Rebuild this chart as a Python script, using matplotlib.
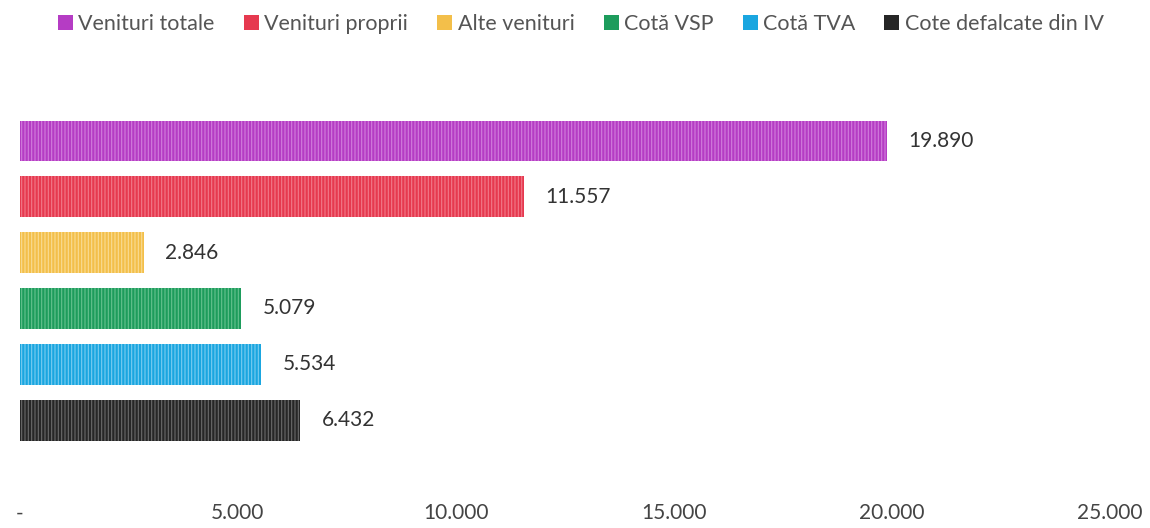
import matplotlib
matplotlib.use("Agg")
import matplotlib.pyplot as plt
from matplotlib.patches import Patch

categories = ["Venituri totale", "Venituri proprii", "Alte venituri",
              "Cotă VSP", "Cotă TVA", "Cote defalcate din IV"]
values = [19890, 11557, 2846, 5079, 5534, 6432]
colors = ["#b53cc4", "#e6394f", "#f3bf4a", "#1d9c5c", "#1aa6e0", "#262626"]
stripe_colors = ["#d27ddc", "#f27a8a", "#f9dc94", "#65c28f", "#7acdf0", "#6a6a6a"]
xticks = [0, 5000, 10000, 15000, 20000, 25000]
xtick_labels = ["-", "5.000", "10.000", "15.000", "20.000", "25.000"]

plt.rcParams["font.family"] = ["Lato", "DejaVu Sans"]
plt.rcParams["hatch.linewidth"] = 0.8

fig = plt.figure(figsize=(11.5, 5.28), dpi=100)
ax = fig.add_axes([0.017, 0.0625, 0.948, 0.805])

pos = list(range(len(categories)))
for i, (cat, val) in enumerate(zip(categories, values)):
    ax.barh(pos[i], val, height=0.73, color=colors[i], linewidth=0)
    ax.barh(pos[i], val, height=0.73, facecolor="none", edgecolor=stripe_colors[i],
            hatch="|||||", linewidth=0)
    ax.text(val + 500, pos[i], f"{val:,}".replace(",", "."), va="center", ha="left",
            fontsize=15, color="#333333")

ax.set_xlim(0, 25000)
ax.set_ylim(6.34, -1.27)
ax.set_xticks(xticks)
ax.set_xticklabels(xtick_labels, fontsize=15, color="#444444")
ax.set_yticks([])
ax.tick_params(axis="x", length=0, pad=6)
for s in ax.spines.values():
    s.set_visible(False)

handles = [Patch(facecolor=c) for c in colors]
fig.legend(handles, categories, loc="upper center", bbox_to_anchor=(0.505, 1.01), ncol=6,
           frameon=False, fontsize=15.5, handlelength=0.7, handleheight=0.7,
           handletextpad=0.25, columnspacing=1.35, labelcolor="#555555")

fig.savefig("out.png", dpi=100)
